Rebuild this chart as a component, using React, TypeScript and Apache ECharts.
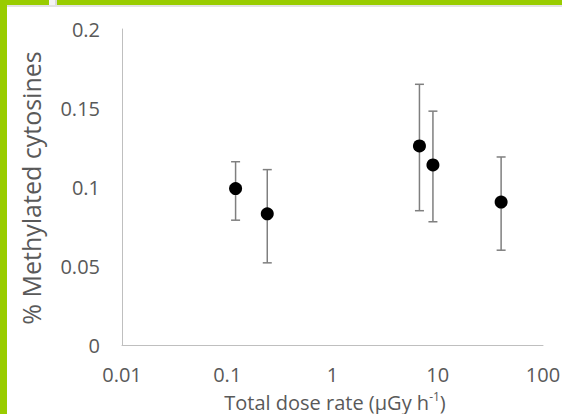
import React, { useEffect, useRef } from "react";
import * as echarts from "echarts";

// Dose rate (µGy h-1) for each sampling site
const doseRate = [0.12, 0.24, 6.7, 9, 40];
// Mean % methylated cytosines
const methylated = [0.099, 0.083, 0.126, 0.114, 0.0905];
// Lower / upper ends of the error bars
const errLow = [0.079, 0.052, 0.085, 0.078, 0.06];
const errHigh = [0.116, 0.111, 0.165, 0.148, 0.119];

const xTicks = [0.01, 0.1, 1, 10, 100];
const yTicks = [0, 0.05, 0.1, 0.15, 0.2];

const FONT = "'Open Sans', sans-serif";
const LABEL = "#595959";
const GREEN = "#99cc00";

export default function App() {
  const ref = useRef<HTMLDivElement>(null);

  useEffect(() => {
    if (!ref.current) return;
    const chart = echarts.init(ref.current, undefined, { renderer: "svg" });

    const points = doseRate.map((x, i) => [x, methylated[i]]);
    const bars = doseRate.map((x, i) => [x, errLow[i], errHigh[i]]);

    chart.setOption({
      animation: false,
      backgroundColor: "#ffffff",
      textStyle: { fontFamily: FONT },
      grid: {
        left: 122,
        right: 19,
        top: 29,
        bottom: 69,
        containLabel: false,
        outerBoundsMode: "none",
      },
      xAxis: {
        type: "log",
        logBase: 10,
        min: xTicks[0],
        max: xTicks[xTicks.length - 1],
        axisLine: { show: true, lineStyle: { color: "#bfbfbf", width: 1 } },
        axisTick: { show: false },
        splitLine: { show: false },
        axisLabel: {
          color: LABEL,
          fontSize: 20,
          fontFamily: FONT,
          margin: 19,
          formatter: (v: number) => String(Number(v.toPrecision(1))),
        },
      },
      yAxis: {
        type: "value",
        min: yTicks[0],
        max: yTicks[yTicks.length - 1],
        interval: 0.05,
        axisLine: { show: true, lineStyle: { color: "#bfbfbf", width: 1 } },
        axisTick: { show: false },
        splitLine: { show: false },
        axisLabel: {
          color: LABEL,
          fontSize: 20,
          fontFamily: FONT,
          margin: 22,
          formatter: (v: number) => String(Number(v.toFixed(2))),
        },
      },
      series: [
        {
          type: "custom",
          data: bars,
          z: 1,
          renderItem: (params: any, api: any) => {
            const x = api.value(0);
            const lo = api.coord([x, api.value(1)]);
            const hi = api.coord([x, api.value(2)]);
            const cap = 4.5;
            const style = { stroke: "#7f7f7f", lineWidth: 1.5 };
            return {
              type: "group",
              children: [
                { type: "line", shape: { x1: lo[0], y1: lo[1], x2: hi[0], y2: hi[1] }, style },
                { type: "line", shape: { x1: lo[0] - cap, y1: lo[1], x2: lo[0] + cap, y2: lo[1] }, style },
                { type: "line", shape: { x1: hi[0] - cap, y1: hi[1], x2: hi[0] + cap, y2: hi[1] }, style },
              ],
            };
          },
        },
        {
          type: "scatter",
          data: points,
          z: 2,
          symbol: "circle",
          symbolSize: 13,
          itemStyle: { color: "#000000", opacity: 1 },
        },
      ],
      graphic: [
        { type: "rect", shape: { x: 0, y: 0, width: 7, height: 414 }, style: { fill: GREEN }, silent: true },
        { type: "rect", shape: { x: 0, y: 0, width: 562, height: 5 }, style: { fill: GREEN }, silent: true },
        { type: "rect", shape: { x: 49, y: 0, width: 6, height: 5 }, style: { fill: "#f4f4f4" }, silent: true },
        { type: "rect", shape: { x: 55, y: 0, width: 2, height: 5 }, style: { fill: "#d9d9d9" }, silent: true },
        { type: "rect", shape: { x: 7, y: 5, width: 555, height: 2 }, style: { fill: "#e3e3e3" }, silent: true },
        {
          type: "text",
          x: 31,
          y: 188,
          rotation: Math.PI / 2,
          silent: true,
          style: {
            text: "% Methylated cytosines",
            fill: LABEL,
            font: `25px ${FONT}`,
            align: "center",
            verticalAlign: "middle",
          },
        },
        {
          type: "text",
          x: 335,
          y: 401,
          silent: true,
          style: {
            text: "{a|Total dose rate (µGy h}{s|-1}{a|)}",
            fill: LABEL,
            align: "center",
            verticalAlign: "middle",
            rich: {
              a: { fontFamily: FONT, fontSize: 20, color: LABEL, lineHeight: 22, verticalAlign: "bottom" },
              s: { fontFamily: FONT, fontSize: 12, color: LABEL, lineHeight: 22, verticalAlign: "top", padding: [0, 0, 6, 0] },
            },
          },
        },
      ],
    });

    return () => chart.dispose();
  }, []);

  return (
    <div
      ref={ref}
      style={{ position: "fixed", left: 0, top: 0, width: 562, height: 414, background: "#fff" }}
    />
  );
}
